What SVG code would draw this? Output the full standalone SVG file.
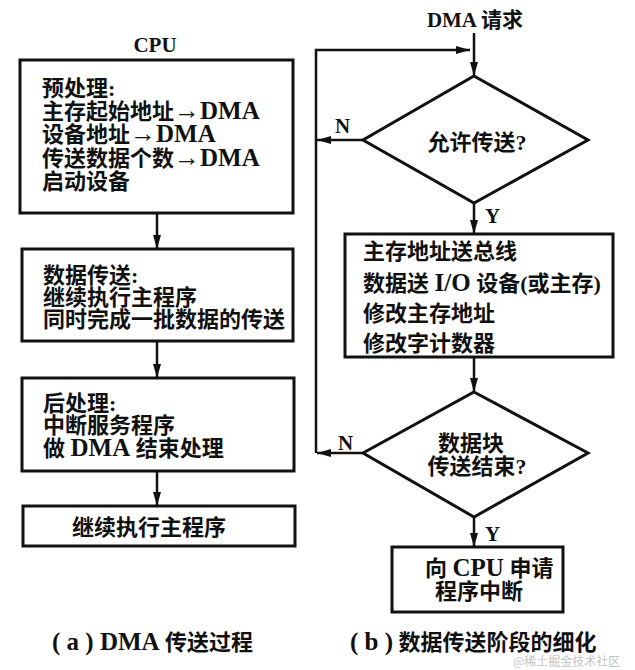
<svg xmlns="http://www.w3.org/2000/svg" width="635" height="670" viewBox="0 0 635 670">
<style>
  .box{fill:#fff;stroke:#111;stroke-width:3}
  .ln{fill:none;stroke:#111;stroke-width:2.5}
  .t{font-family:"Liberation Serif","Noto Sans CJK SC",serif;font-weight:bold;font-size:22px;fill:#111}
  .L{font-size:25px}
  .ar{font-size:26px}
  .lbl{font-family:"Liberation Serif","Noto Sans CJK SC",serif;font-weight:bold;font-size:21px;fill:#111}
  .wm{font-family:"Noto Sans CJK SC",sans-serif;font-size:12px;fill:#c4c4c4}
</style>
<defs>
  <marker id="ah" viewBox="0 0 14 8" refX="14" refY="4" markerWidth="14" markerHeight="8" markerUnits="userSpaceOnUse" orient="auto">
    <path d="M0,0 L14,4 L0,8 Z" fill="#111"/>
  </marker>
</defs>
<rect width="635" height="670" fill="#fff"/>

<!-- Left: (a) -->
<text class="lbl" x="155" y="52" text-anchor="middle">CPU</text>
<g id="a1">
  <rect class="box" x="20" y="60" width="273" height="153"/>
  <text class="t" x="42" y="96">预处理:</text>
  <text class="t" x="42" y="119">主存起始地址<tspan class="ar">→</tspan><tspan class="L">DMA</tspan></text>
  <text class="t" x="42" y="142">设备地址<tspan class="ar">→</tspan><tspan class="L">DMA</tspan></text>
  <text class="t" x="42" y="166">传送数据个数<tspan class="ar">→</tspan><tspan class="L">DMA</tspan></text>
  <text class="t" x="42" y="189">启动设备</text>
</g>
<g id="a2">
  <rect class="box" x="22" y="249" width="271" height="92"/>
  <text class="t" x="43" y="283">数据传送:</text>
  <text class="t" x="43" y="305">继续执行主程序</text>
  <text class="t" x="43" y="327">同时完成一批数据的传送</text>
</g>
<g id="a3">
  <rect class="box" x="22" y="378" width="272" height="93"/>
  <text class="t" x="43" y="411">后处理:</text>
  <text class="t" x="43" y="433">中断服务程序</text>
  <text class="t" x="43" y="456">做 <tspan class="L">DMA</tspan> 结束处理</text>
</g>
<g id="a4">
  <rect class="box" x="23" y="506" width="272" height="40"/>
  <text class="t" x="72" y="535">继续执行主程序</text>
</g>
<text class="t" x="52" y="650"><tspan class="L">( a ) DMA</tspan> 传送过程</text>

<!-- Right: (b) -->
<text class="lbl" x="475" y="27" text-anchor="middle">DMA 请求</text>
<g id="d1">
  <polygon class="box" points="474,76 588,140 474,203 363,140"/>
  <text class="t" x="477" y="150" text-anchor="middle">允许传送?</text>
</g>
<g id="b1">
  <rect class="box" x="345" y="234" width="268" height="123"/>
  <text class="t" x="363" y="259">主存地址送总线</text>
  <text class="t" x="363" y="291">数据送 <tspan class="L">I/O</tspan> 设备(或主存)</text>
  <text class="t" x="363" y="321">修改主存地址</text>
  <text class="t" x="363" y="351">修改字计数器</text>
</g>
<g id="d2">
  <polygon class="box" points="474,392 588,453 474,517 363,453"/>
  <text class="t" x="471" y="451" text-anchor="middle">数据块</text>
  <text class="t" x="477" y="474" text-anchor="middle">传送结束?</text>
</g>
<g id="b2">
  <rect class="box" x="392" y="547" width="171" height="65"/>
  <text class="t" x="425" y="576">向 <tspan class="L">CPU</tspan> 申请</text>
  <text class="t" x="435" y="599">程序中断</text>
</g>
<text class="t" x="350" y="650"><tspan class="L">( b )</tspan> 数据传送阶段的细化</text>

<g id="connectors">
  <line class="ln" x1="157" y1="213" x2="157" y2="249" marker-end="url(#ah)"/>
  <line class="ln" x1="157" y1="341" x2="157" y2="378" marker-end="url(#ah)"/>
  <line class="ln" x1="157" y1="471" x2="157" y2="506" marker-end="url(#ah)"/>

  <line class="ln" x1="474" y1="33" x2="474" y2="76" marker-end="url(#ah)"/>
  <polyline class="ln" points="316,453 316,50 470,50" marker-end="url(#ah)"/>
  <line class="ln" x1="363" y1="140" x2="317" y2="140" marker-end="url(#ah)"/>
  <line class="ln" x1="474" y1="203" x2="474" y2="234" marker-end="url(#ah)"/>
  <line class="ln" x1="474" y1="357" x2="474" y2="392" marker-end="url(#ah)"/>
  <line class="ln" x1="363" y1="453" x2="317" y2="453" marker-end="url(#ah)"/>
  <line class="ln" x1="474" y1="517" x2="474" y2="547" marker-end="url(#ah)"/>

  <text class="lbl" x="335" y="133">N</text>
  <text class="lbl" x="485" y="223">Y</text>
  <text class="lbl" x="338" y="450">N</text>
  <text class="lbl" x="485" y="541">Y</text>
</g>

<text class="wm" x="513" y="666">@稀土掘金技术社区</text>
</svg>
